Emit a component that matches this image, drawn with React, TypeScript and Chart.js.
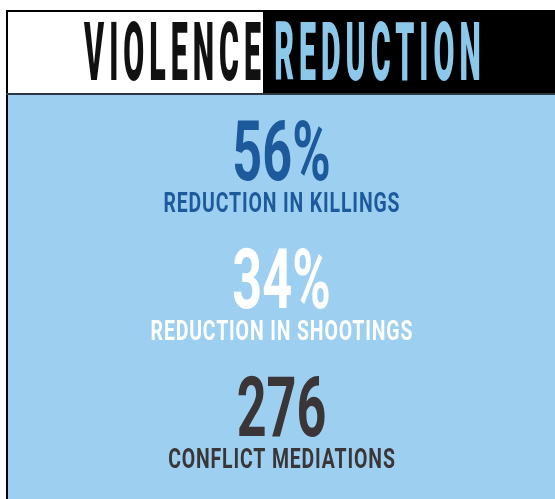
import React, { useEffect, useRef } from "react";
import { Chart, registerables } from "chart.js";

Chart.register(...registerables);

const titleWords = ["VIOLENCE", "REDUCTION"];
const categories = ["REDUCTION IN KILLINGS", "REDUCTION IN SHOOTINGS", "CONFLICT MEDIATIONS"];
const values = [56, 34, 276];
const units = ["%", "%", ""];
const statColors = ["#1c5a9b", "#ffffff", "#3a3536"];

const BLUE_BG = "#9dcff1";
const TITLE_BLUE = "#8cc8ea";

function drawCondensed(
  ctx: CanvasRenderingContext2D,
  text: string,
  cx: number,
  baseline: number,
  font: string,
  color: string,
  sx: number,
  spacing = 0
) {
  ctx.save();
  ctx.font = font;
  ctx.fillStyle = color;
  (ctx as any).letterSpacing = spacing + "px";
  ctx.textAlign = "left";
  ctx.textBaseline = "alphabetic";
  const w = ctx.measureText(text).width - spacing;
  ctx.translate(cx, baseline);
  ctx.scale(sx, 1);
  ctx.fillText(text, -w / 2, 0);
  ctx.restore();
}

const backgroundPlugin = {
  id: "infographicBackground",
  beforeDraw(chart: any) {
    const ctx: CanvasRenderingContext2D = chart.ctx;
    const W = chart.width;
    const H = chart.height;
    ctx.save();
    ctx.fillStyle = "#ffffff";
    ctx.fillRect(0, 0, W, H);
    ctx.fillStyle = BLUE_BG;
    ctx.fillRect(8, 95, W - 8, H - 95);
    ctx.fillStyle = "#000000";
    ctx.fillRect(263, 10, W - 263, 85);
    ctx.fillRect(6, 10, 257, 2);
    ctx.fillRect(6, 10, 2, H - 10);
    ctx.fillStyle = "#2e3640";
    ctx.fillRect(6, 93, W - 6, 2);
    // header title
    drawCondensed(ctx, titleWords[0], 172.5, 80, "900 82px Roboto", "#111111", 0.37, 13.5);
    drawCondensed(ctx, titleWords[1], 377.5, 80, "900 82px Roboto", TITLE_BLUE, 0.37, 13.5);
    ctx.restore();
  },
};

const statsPlugin = {
  id: "statsLabels",
  afterDatasetsDraw(chart: any) {
    const ctx: CanvasRenderingContext2D = chart.ctx;
    const yScale = chart.scales.y;
    const cx = (chart.chartArea.left + chart.chartArea.right) / 2;
    categories.forEach((cat, i) => {
      const cy = yScale.getPixelForValue(i);
      const label = String(values[i]) + units[i];
      drawCondensed(ctx, label, cx, cy + 14, "bold 84px Roboto", statColors[i], 0.62, 0);
      drawCondensed(ctx, cat, cx, cy + 46, "bold 27px Roboto", statColors[i], 0.72, 1.2);
    });
  },
};

export default function App() {
  const ref = useRef<HTMLCanvasElement>(null);
  useEffect(() => {
    if (!ref.current) return;
    const chart = new Chart(ref.current, {
      type: "bar",
      data: {
        labels: categories,
        datasets: [
          {
            data: values,
            backgroundColor: "rgba(0,0,0,0)",
            borderWidth: 0,
          },
        ],
      },
      options: {
        indexAxis: "y",
        responsive: false,
        maintainAspectRatio: false,
        animation: false,
        devicePixelRatio: 1,
        layout: { padding: { top: 102, bottom: 13, left: 8, right: 0 } },
        scales: {
          x: { display: false },
          y: { display: false },
        },
        plugins: {
          legend: { display: false },
          tooltip: { enabled: false },
          title: { display: false },
        },
      },
      plugins: [backgroundPlugin, statsPlugin],
    } as any);
    return () => chart.destroy();
  }, []);
  return (
    <div style={{ position: "fixed", left: 0, top: 0, width: 555, height: 499 }}>
      <canvas ref={ref} width={555} height={499} style={{ display: "block", width: 555, height: 499 }} />
    </div>
  );
}
